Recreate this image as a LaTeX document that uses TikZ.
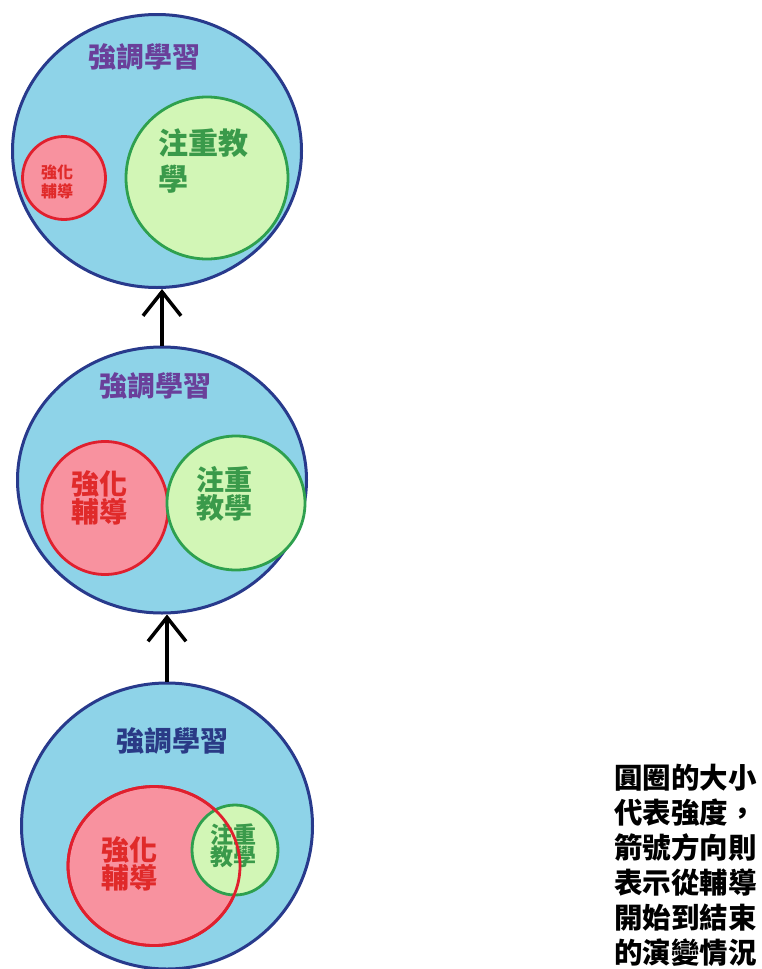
\documentclass[tikz,border=0pt]{standalone}
\usepackage{fontspec}
\newfontfamily\cjk{Noto Sans CJK TC}
\usetikzlibrary{arrows.meta,shapes.geometric}
\definecolor{bigfill}{HTML}{8ED3E8}
\definecolor{bigline}{HTML}{283A8C}
\definecolor{redfill}{HTML}{F8929F}
\definecolor{redline}{HTML}{E0202E}
\definecolor{grnfill}{HTML}{D2F6B6}
\definecolor{grnline}{HTML}{2EA04E}
\definecolor{purp}{HTML}{6A3F9A}
\definecolor{navy}{HTML}{2A3A86}
\definecolor{redtxt}{HTML}{E02A2A}
\definecolor{grntxt}{HTML}{3A9A4A}
\begin{document}
\begin{tikzpicture}[x=1pt,y=-1pt,
  big/.style={ellipse,draw=bigline,fill=bigfill,line width=3pt,inner sep=0pt},
  redc/.style={ellipse,draw=redline,fill=redfill,line width=2.8pt,inner sep=0pt},
  grnc/.style={ellipse,draw=grnline,fill=grnfill,line width=2.8pt,inner sep=0pt},
  ttl/.style={font=\cjk\bfseries\fontsize{28}{30}\selectfont,inner sep=0pt},
  lbl/.style={align=center,inner sep=0pt},
  uparrow/.style={-{Straight Barb[length=24pt,width=38pt,line width=3.5pt]},line width=4pt,black}]
\useasboundingbox (0,0) rectangle (761,969);
\fill[white] (0,0) rectangle (761,969);
% top
\node[big,minimum width=289pt,minimum height=273pt] (b1) at (157,151) {};
\node[redc,minimum size=83pt] (r1) at (64,178) {};
\node[grnc,minimum size=162pt] (g1) at (207,178) {};
\node[ttl,text=purp] (t1) at (144,57) {強調學習};
\node[lbl,align=left,anchor=north west,text=grntxt,font=\cjk\bfseries\fontsize{30}{36}\selectfont] (gt1) at (158,128) {注重教\\學};
\node[lbl,text=redtxt,font=\cjk\bfseries\fontsize{16}{19}\selectfont] (rt1) at (57,182) {強化\\輔導};
% middle
\node[big,minimum width=289pt,minimum height=266pt] (b2) at (162,480) {};
\node[redc,minimum width=126pt,minimum height=133pt] (r2) at (105,508) {};
\node[grnc,minimum width=138pt,minimum height=134pt] (g2) at (236,503) {};
\node[ttl,text=purp] (t2) at (155,386) {強調學習};
\node[lbl,text=redtxt,font=\cjk\bfseries\fontsize{28}{26}\selectfont] (rt2) at (99,498) {強化\\輔導};
\node[lbl,text=grntxt,font=\cjk\bfseries\fontsize{28}{28}\selectfont] (gt2) at (224,494) {注重\\教學};
% bottom
\node[big,minimum width=291pt,minimum height=286pt] (b3) at (167,826) {};
\node[redc,minimum width=172pt,minimum height=159pt] (r3) at (154,866) {};
\node[grnc,minimum width=86pt,minimum height=90pt] (g3) at (235,850) {};
\node[ttl,text=navy] (t3) at (172,741) {強調學習};
\node[lbl,text=redtxt,font=\cjk\bfseries\fontsize{28}{26}\selectfont] (rt3) at (129,864) {強化\\輔導};
\node[lbl,text=grntxt,font=\cjk\bfseries\fontsize{23}{22}\selectfont] (gt3) at (233,846) {注重\\教學};
\node[ellipse,draw=redline,line width=2.8pt,inner sep=0pt,minimum width=172pt,minimum height=159pt] (r3o) at (r3.center) {};
% arrows
\draw[uparrow] (b2.north) -- (b2.north |- b1.south);
\draw[uparrow] (b3.north) -- (b3.north |- b2.south);
% note
\node[lbl,align=left,anchor=north west,font=\cjk\bfseries\fontsize{28.5}{35}\selectfont] (note) at (614,764) {圓圈的大小\\代表強度，\\箭號方向則\\表示從輔導\\開始到結束\\的演變情況};
\end{tikzpicture}
\end{document}
